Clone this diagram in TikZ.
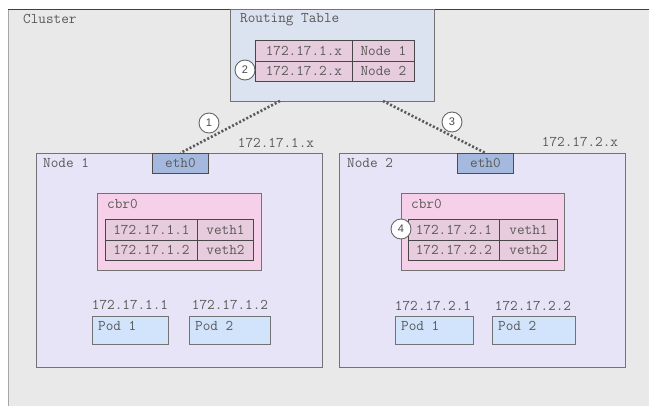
\documentclass[tikz,border=0pt]{standalone}
\usepackage{fontspec}
\newfontfamily\numfont{Liberation Sans}
\begin{document}
\begin{tikzpicture}[x=1pt,y=-1pt,
  txt/.style={text=black!65, font=\ttfamily\fontsize{14.8}{16}\selectfont, inner sep=0pt},
  box/.style={draw=black!55, line width=0.9pt, inner sep=0pt},
  cell/.style={draw=black!72, line width=0.9pt, fill=cellpink, inner sep=0pt, text=black!65, font=\ttfamily\fontsize{14.8}{16}\selectfont},
  num/.style={circle, draw=black!60, line width=0.9pt, fill=white, minimum size=20pt, inner sep=0pt, font=\numfont\fontsize{11}{12}\selectfont, text=black!70},
  link/.style={draw=black!65, line width=2.6pt, dash pattern=on 2pt off 2pt}
]
\definecolor{clgray}{HTML}{E9E9E9}
\definecolor{rtblue}{HTML}{DCE3F0}
\definecolor{nodelav}{HTML}{E7E4F8}
\definecolor{cbrpink}{HTML}{F6D0E8}
\definecolor{cellpink}{HTML}{E6CCDC}
\definecolor{ethblue}{HTML}{A4B9DD}
\definecolor{podblue}{HTML}{D1E4FB}
\useasboundingbox (0,0) rectangle (649,405);
\fill[white] (0,0) rectangle (649,405);
% cluster
\node[box, draw=black!35, fill=clgray, minimum width=645, minimum height=400, anchor=north west] (cluster) at (8,9) {};
\draw[black!75, line width=1pt] (8,9) -- (649,9);
\node[txt, anchor=west] (clt) at (23,19) {Cluster};
% routing table
\node[box, fill=rtblue, minimum width=204, minimum height=92, anchor=north west] (rt) at (230,9) {};
\node[txt, anchor=west] (rtt) at (240,20) {Routing Table};
\node[cell, minimum width=97, minimum height=20.5, anchor=north west] (r11) at (255,40) {172.17.1.x};
\node[cell, minimum width=62, minimum height=20.5, anchor=north west] (r12) at (352,40) {Node 1};
\node[cell, minimum width=97, minimum height=20.5, anchor=north west] (r21) at (255,60.5) {172.17.2.x};
\node[cell, minimum width=62, minimum height=20.5, anchor=north west] (r22) at (352,60.5) {Node 2};
% node 1
\node[box, fill=nodelav, minimum width=286, minimum height=214, anchor=north west] (n1) at (36,153) {};
\node[txt, anchor=west] (n1t) at (43,163) {Node 1};
\node[box, draw=black!70, fill=ethblue, minimum width=56, minimum height=20, anchor=north west, txt] (e1) at (152,153) {eth0};
\node[txt, anchor=center] (n1ip) at (276,143) {172.17.1.x};
\node[box, fill=cbrpink, minimum width=164, minimum height=77, anchor=north west] (c1) at (97,193) {};
\node[txt, anchor=west] (c1t) at (107,204) {cbr0};
\node[cell, minimum width=92, minimum height=20.5, anchor=north west] (a11) at (105,219) {172.17.1.1};
\node[cell, minimum width=56, minimum height=20.5, anchor=north west] (a12) at (197,219) {veth1};
\node[cell, minimum width=92, minimum height=20.5, anchor=north west] (a21) at (105,239.5) {172.17.1.2};
\node[cell, minimum width=56, minimum height=20.5, anchor=north west] (a22) at (197,239.5) {veth2};
\node[txt] (p1ip) at (130,305) {172.17.1.1};
\node[txt] (p2ip) at (230,305) {172.17.1.2};
\node[box, fill=podblue, minimum width=76, minimum height=28, anchor=north west] (p1) at (92,316) {};
\node[txt, anchor=west] (p1t) at (98,326) {Pod 1};
\node[box, fill=podblue, minimum width=81, minimum height=28, anchor=north west] (p2) at (189,316) {};
\node[txt, anchor=west] (p2t) at (195,326) {Pod 2};
% node 2
\node[box, fill=nodelav, minimum width=286, minimum height=214, anchor=north west] (n2) at (339,153) {};
\node[txt, anchor=west] (n2t) at (347,163) {Node 2};
\node[box, draw=black!70, fill=ethblue, minimum width=56, minimum height=20, anchor=north west, txt] (e2) at (457,153) {eth0};
\node[txt, anchor=center] (n2ip) at (580,142) {172.17.2.x};
\node[box, fill=cbrpink, minimum width=163, minimum height=77, anchor=north west] (c2) at (401,193) {};
\node[txt, anchor=west] (c2t) at (411,204) {cbr0};
\node[cell, minimum width=91, minimum height=20.5, anchor=north west] (b11) at (408,219) {172.17.2.1};
\node[cell, minimum width=58, minimum height=20.5, anchor=north west] (b12) at (499,219) {veth1};
\node[cell, minimum width=91, minimum height=20.5, anchor=north west] (b21) at (408,239.5) {172.17.2.2};
\node[cell, minimum width=58, minimum height=20.5, anchor=north west] (b22) at (499,239.5) {veth2};
\node[txt] (q1ip) at (433,306) {172.17.2.1};
\node[txt] (q2ip) at (533,306) {172.17.2.2};
\node[box, fill=podblue, minimum width=78, minimum height=28, anchor=north west] (q1) at (395,316) {};
\node[txt, anchor=west] (q1t) at (401,326) {Pod 1};
\node[box, fill=podblue, minimum width=83, minimum height=28, anchor=north west] (q2) at (492,316) {};
\node[txt, anchor=west] (q2t) at (498,326) {Pod 2};
% links
\coordinate (rtl) at (280,101);
\coordinate (rtr) at (383,101);
\draw[link] (rtl) -- (e1.north);
\draw[link] (rtr) -- (e2.north);
% numbered markers
\node[num] (m1) at (209,123) {1};
\node[num] (m2) at (245,70) {2};
\node[num] (m3) at (452,122) {3};
\node[num] (m4) at (401,229) {4};
\end{tikzpicture}
\end{document}
